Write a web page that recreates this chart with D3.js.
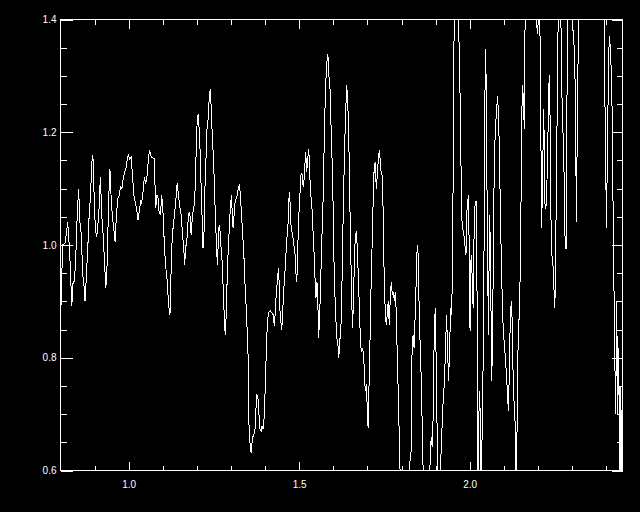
<!DOCTYPE html>
<html lang="en">
<head>
<meta charset="UTF-8">
<title>Spectrum</title>
<script src="https://d3js.org/d3.v7.min.js"></script>
<style>
  html, body { margin: 0; padding: 0; background: #000; }
  svg { display: block; }
  .tick text { font-family: "Liberation Sans", Arial, sans-serif; font-size: 10px; fill: #fff; }
  .tick line { stroke: #fff; }
</style>
</head>
<body>
<svg width="640" height="512"></svg>
<script>
// wavelength (x) and flux (y)
const wave = [
  0.802,0.806,0.814,0.821,0.826,0.829,0.833,0.837,0.841,0.845,0.849,0.853,0.857,0.861,0.865,0.868,0.872,0.876,0.880,0.884,
  0.888,0.892,0.895,0.898,0.902,0.906,0.909,0.913,0.917,0.921,0.925,0.929,0.933,0.937,0.941,0.945,0.949,0.952,0.956,0.960,
  0.964,0.968,0.972,0.976,0.980,0.984,0.988,0.992,0.996,0.999,1.003,1.007,1.011,1.015,1.019,1.023,1.027,1.031,1.035,1.038,
  1.043,1.046,1.050,1.054,1.058,1.061,1.066,1.072,1.075,1.079,1.083,1.086,1.089,1.093,1.097,1.101,1.105,1.109,1.113,1.117,
  1.121,1.123,1.126,1.130,1.134,1.138,1.142,1.146,1.150,1.154,1.158,1.162,1.164,1.167,1.172,1.175,1.179,1.183,1.187,1.191,
  1.195,1.198,1.201,1.204,1.207,1.210,1.213,1.216,1.218,1.221,1.224,1.227,1.230,1.233,1.236,1.239,1.242,1.245,1.248,1.251,
  1.254,1.257,1.260,1.262,1.265,1.268,1.271,1.274,1.277,1.280,1.283,1.286,1.289,1.292,1.295,1.298,1.301,1.304,1.306,1.309,
  1.312,1.315,1.318,1.322,1.325,1.328,1.331,1.334,1.337,1.340,1.343,1.346,1.348,1.350,1.353,1.356,1.359,1.363,1.367,1.371,
  1.375,1.379,1.382,1.384,1.389,1.391,1.394,1.398,1.402,1.406,1.409,1.412,1.416,1.420,1.424,1.427,1.430,1.433,1.436,1.439,
  1.441,1.443,1.446,1.449,1.452,1.455,1.459,1.463,1.467,1.469,1.472,1.475,1.478,1.481,1.484,1.487,1.490,1.493,1.496,1.499,
  1.502,1.505,1.508,1.511,1.513,1.516,1.519,1.522,1.525,1.528,1.531,1.534,1.537,1.540,1.543,1.546,1.549,1.552,1.555,1.557,
  1.560,1.563,1.566,1.569,1.572,1.575,1.578,1.581,1.584,1.587,1.590,1.593,1.596,1.599,1.601,1.604,1.607,1.610,1.613,1.616,
  1.619,1.622,1.624,1.627,1.630,1.633,1.636,1.639,1.642,1.645,1.648,1.650,1.653,1.656,1.659,1.662,1.665,1.668,1.671,1.674,
  1.677,1.680,1.683,1.686,1.689,1.692,1.694,1.697,1.700,1.702,1.705,1.708,1.711,1.714,1.717,1.720,1.723,1.726,1.729,1.732,
  1.735,1.738,1.740,1.743,1.746,1.749,1.752,1.755,1.758,1.761,1.764,1.767,1.770,1.773,1.776,1.779,1.782,1.784,1.787,1.790,
  1.793,1.796,1.803,1.815,1.828,1.831,1.834,1.837,1.840,1.843,1.846,1.849,1.852,1.855,1.858,1.861,1.864,1.870,1.880,1.887,
  1.890,1.893,1.896,1.899,1.900,1.903,1.906,1.911,1.918,1.922,1.926,1.929,1.932,1.935,1.938,1.941,1.944,1.947,1.950,1.952,
  1.955,1.964,1.973,1.976,1.979,1.983,1.986,1.989,1.991,1.994,1.997,1.999,2.001,2.004,2.007,2.010,2.013,2.016,2.019,2.022,
  2.024,2.028,2.031,2.034,2.037,2.040,2.042,2.045,2.047,2.049,2.052,2.055,2.058,2.061,2.064,2.067,2.070,2.073,2.076,2.079,
  2.082,2.084,2.087,2.090,2.093,2.096,2.099,2.102,2.105,2.108,2.111,2.114,2.117,2.120,2.123,2.126,2.128,2.131,2.134,2.137,
  2.140,2.143,2.146,2.149,2.152,2.154,2.157,2.160,2.163,2.178,2.199,2.205,2.211,2.217,2.221,2.225,2.229,2.233,2.235,2.238,
  2.241,2.245,2.249,2.252,2.254,2.257,2.260,2.266,2.269,2.276,2.280,2.283,2.286,2.288,2.296,2.301,2.305,2.309,2.313,2.316,
  2.319,2.321,2.340,2.369,2.393,2.397,2.401,2.405,2.409,2.413,2.417,2.421,2.425,2.428,2.431,2.434,2.437,2.440,2.443,2.446
];
const flux = [
  0.894,1.000,1.004,1.041,0.995,0.959,0.891,0.935,0.935,0.982,1.053,1.100,1.041,1.018,0.947,0.935,0.900,0.947,0.995,1.053,
  1.088,1.147,1.159,1.100,1.030,1.015,1.030,1.065,1.121,1.053,1.018,0.970,0.924,0.970,1.077,1.134,1.077,1.053,1.030,1.006,
  1.053,1.083,1.088,1.103,1.100,1.118,1.130,1.136,1.153,1.160,1.153,1.156,1.124,1.088,1.077,1.065,1.044,1.059,1.077,1.074,
  1.100,1.121,1.109,1.124,1.153,1.168,1.156,1.154,1.153,1.065,1.088,1.083,1.059,1.053,1.088,1.053,0.994,0.959,0.935,0.894,
  0.876,0.923,0.994,1.030,1.053,1.077,1.109,1.088,1.068,1.053,1.018,0.988,0.965,0.994,1.018,1.053,1.059,1.018,1.053,1.065,
  1.100,1.171,1.224,1.233,1.200,1.159,1.088,1.035,0.994,1.024,1.112,1.159,1.212,1.224,1.260,1.277,1.242,1.195,1.159,1.112,
  1.053,1.006,0.965,0.994,1.035,1.024,0.994,0.971,0.923,0.876,0.841,0.876,0.947,0.994,1.030,1.065,1.088,1.053,1.030,1.053,
  1.077,1.083,1.088,1.103,1.106,1.083,1.053,1.018,0.994,0.947,0.900,0.888,0.817,0.806,0.670,0.646,0.632,0.658,0.664,0.676,
  0.735,0.729,0.700,0.676,0.668,0.679,0.673,0.700,0.782,0.853,0.876,0.882,0.883,0.879,0.876,0.856,0.882,0.917,0.935,0.959,
  0.935,0.888,0.864,0.850,0.888,0.923,0.959,1.006,1.035,1.077,1.094,1.041,1.024,1.018,1.000,0.994,0.953,0.935,1.000,1.053,
  1.088,1.124,1.127,1.106,1.103,1.136,1.165,1.130,1.153,1.171,1.124,1.088,1.071,1.030,0.994,0.947,0.906,0.935,0.888,0.835,
  0.876,0.935,1.006,1.053,1.141,1.230,1.289,1.324,1.339,1.301,1.283,1.218,1.159,1.083,0.994,0.923,0.876,0.835,0.829,0.800,
  0.829,0.853,0.876,0.994,1.083,1.171,1.230,1.283,1.260,1.200,1.100,1.018,0.935,0.853,0.894,0.982,1.018,1.024,0.982,0.935,
  0.876,0.823,0.811,0.817,0.805,0.758,0.741,0.753,0.700,0.676,0.758,0.841,0.935,1.006,1.083,1.141,1.147,1.100,1.124,1.153,
  1.168,1.147,1.130,1.124,1.065,0.947,0.888,0.859,0.876,0.900,0.859,0.906,0.935,0.912,0.917,0.900,0.917,0.888,0.817,0.747,
  0.670,0.593,0.550,0.560,0.634,0.817,0.841,0.817,0.876,0.935,1.000,0.982,0.876,0.817,0.758,0.670,0.580,0.550,0.560,0.659,
  0.641,0.700,0.847,0.888,0.859,0.729,0.606,0.550,0.664,0.723,0.758,0.817,0.876,0.817,0.758,0.817,0.888,0.876,0.982,1.200,
  1.450,1.500,1.224,1.053,1.030,1.018,1.000,0.982,1.053,1.077,1.088,0.935,0.847,0.982,0.947,0.888,1.030,1.077,1.077,0.876,
  0.550,0.741,0.700,0.550,0.700,0.817,0.994,1.289,1.348,1.230,0.994,0.841,1.053,0.994,0.758,0.817,1.053,1.171,1.212,1.242,
  1.265,1.230,1.171,1.053,0.965,0.888,0.841,0.823,0.794,0.770,0.729,0.705,0.817,0.888,0.900,0.817,0.735,0.717,0.670,0.550,
  0.758,0.859,0.876,0.994,1.171,1.283,1.265,1.206,1.450,1.500,1.375,1.450,1.030,1.242,1.065,1.071,1.183,1.301,1.260,1.053,
  0.982,0.959,0.888,0.935,1.141,1.248,1.450,1.500,1.295,1.147,0.994,0.994,1.348,1.450,1.480,1.389,1.371,1.289,1.041,1.254,
  1.383,1.450,1.550,1.550,1.450,1.230,1.030,1.230,1.371,1.348,1.260,1.030,0.817,0.700,0.900,0.700,0.817,0.550,0.750,0.550
];

// axis ticks
const xMajor = [1.0, 1.5, 2.0];
const xMinor = [0.9, 1.1, 1.2, 1.3, 1.4, 1.6, 1.7, 1.8, 1.9, 2.1, 2.2, 2.3, 2.4];
const yMajor = [0.6, 0.8, 1.0, 1.2, 1.4];
const yMinor = [0.65, 0.7, 0.75, 0.85, 0.9, 0.95, 1.05, 1.1, 1.15, 1.25, 1.3, 1.35];

const boxL = 60.5, boxR = 622.5, boxT = 19.5, boxB = 470.5;

const svg = d3.select("svg");

const x = d3.scaleLinear().domain([0.8, 2.448]).range([boxL, boxR]);
const y = d3.scaleLinear().domain([0.6, 1.4]).range([boxB, boxT]);

// clip to the plot box
svg.append("clipPath").attr("id", "box")
  .append("rect")
  .attr("x", boxL).attr("y", boxT)
  .attr("width", boxR - boxL).attr("height", boxB - boxT);

const pts = wave.map((w, i) => [w, flux[i]]);
const line = d3.line().x(d => x(d[0])).y(d => y(d[1]));

svg.append("path")
  .datum(pts)
  .attr("clip-path", "url(#box)")
  .attr("fill", "none")
  .attr("stroke", "#fff")
  .attr("stroke-width", 1)
  .attr("shape-rendering", "crispEdges")
  .attr("d", line);

function addAxis(axis, tx, ty) {
  const g = svg.append("g")
    .attr("transform", `translate(${tx},${ty})`)
    .call(axis);
  g.select(".domain").remove();
  g.selectAll(".tick line").attr("shape-rendering", "crispEdges");
  return g;
}

const fmt = d3.format(".1f");

// bottom
addAxis(d3.axisBottom(x).tickValues(xMajor).tickSize(-9).tickPadding(10).tickFormat(fmt), 0, boxB);
addAxis(d3.axisBottom(x).tickValues(xMinor).tickSize(-5).tickFormat(""), 0, boxB);
// top
addAxis(d3.axisTop(x).tickValues(xMajor).tickSize(-9).tickFormat(""), 0, boxT);
addAxis(d3.axisTop(x).tickValues(xMinor).tickSize(-5).tickFormat(""), 0, boxT);
// left
addAxis(d3.axisLeft(y).tickValues(yMajor).tickSize(-12).tickPadding(4).tickFormat(fmt), boxL, 0);
addAxis(d3.axisLeft(y).tickValues(yMinor).tickSize(-6).tickFormat(""), boxL, 0);
// right
addAxis(d3.axisRight(y).tickValues(yMajor).tickSize(-11).tickFormat(""), boxR, 0);
addAxis(d3.axisRight(y).tickValues(yMinor).tickSize(-6).tickFormat(""), boxR, 0);

// frame
svg.append("rect")
  .attr("x", boxL).attr("y", boxT)
  .attr("width", boxR - boxL).attr("height", boxB - boxT)
  .attr("fill", "none")
  .attr("stroke", "#fff")
  .attr("shape-rendering", "crispEdges");
</script>
</body>
</html>
